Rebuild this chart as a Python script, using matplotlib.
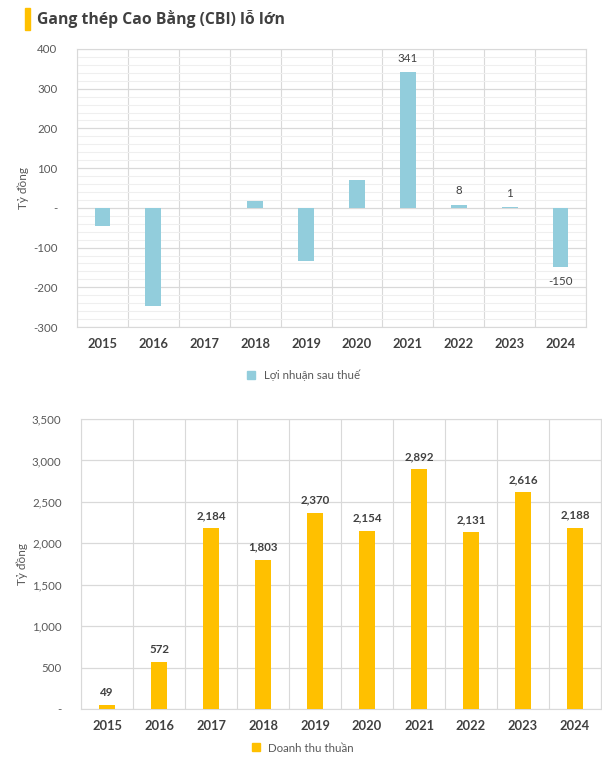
import matplotlib
matplotlib.use("Agg")
import matplotlib.pyplot as plt
from matplotlib.ticker import FuncFormatter, MultipleLocator, FixedLocator
from matplotlib.patches import Rectangle
from matplotlib.lines import Line2D

plt.rcParams['font.family'] = ['Lato', 'DejaVu Sans']

years = ["2015", "2016", "2017", "2018", "2019", "2020", "2021", "2022", "2023", "2024"]
profit = [-46, -248, 0, 18, -135, 71, 341, 8, 1, -150]
profit_labels = [None, None, None, None, None, None, "341", "8", "1", "-150"]
revenue = [49, 572, 2184, 1803, 2370, 2154, 2892, 2131, 2616, 2188]
revenue_labels = ["49", "572", "2,184", "1,803", "2,370", "2,154", "2,892", "2,131", "2,616", "2,188"]

title = "Gang thép Cao Bằng (CBI) lỗ lớn"
ylabel = "Tỷ đồng"
legend_top = "Lợi nhuận sau thuế"
legend_bottom = "Doanh thu thuần"

BLUE = "#92cddc"
YELLOW = "#ffc000"
GRID = "#d9d9d9"
MINOR = "#efefef"
TICK = "#595959"
DARK = "#404040"

W, H = 602, 769
fig = plt.figure(figsize=(W / 100, H / 100), dpi=100)

def fx(px):
    return px / W

def fy(py):
    return 1 - py / H

# title
fig.patches.append(Rectangle((fx(25), fy(30)), fx(5), (22) / H, transform=fig.transFigure,
                             color=YELLOW, zorder=5))
fig.text(fx(37), fy(19), title, fontsize=11.3, fontweight='bold', color=DARK,
         va='center', ha='left', family=['Open Sans', 'DejaVu Sans'])

x = list(range(len(years)))

def style(ax):
    for s in ax.spines.values():
        s.set_color(GRID)
        s.set_linewidth(0.8)
    ax.set_xlim(-0.5, len(years) - 0.5)
    ax.set_xticks(x)
    ax.set_xticklabels(years, fontweight='bold', color=DARK, fontsize=9.3)
    ax.xaxis.set_minor_locator(FixedLocator([i + 0.5 for i in range(-1, len(years))]))
    ax.grid(axis='x', which='minor', color=GRID, linewidth=0.8)
    ax.tick_params(axis='x', which='both', length=0, pad=8)
    ax.tick_params(axis='y', which='both', length=0, labelsize=8.3, labelcolor=TICK, pad=14)
    ax.set_axisbelow(True)

# top chart
ax1 = fig.add_axes([fx(77), fy(327), fx(586) - fx(77), (327 - 49) / H])
ax1.bar(x, profit, width=0.31, color=BLUE, zorder=3)
ax1.set_ylim(-300, 400)
ax1.yaxis.set_major_locator(MultipleLocator(100))
ax1.yaxis.set_minor_locator(MultipleLocator(20))
ax1.grid(axis='y', which='minor', color=MINOR, linewidth=0.8)
ax1.grid(axis='y', which='major', color=GRID, linewidth=0.9)
ax1.yaxis.set_major_formatter(FuncFormatter(lambda v, p: "-" if abs(v) < 1e-9 else f"{v:,.0f}"))
style(ax1)
ax1.set_ylabel(ylabel, fontsize=8.5, color=TICK, labelpad=3)
for i, (v, lab) in enumerate(zip(profit, profit_labels)):
    if lab is None:
        continue
    if v >= 0:
        ax1.annotate(lab, (i, v), xytext=(0, 6), textcoords='offset points',
                     ha='center', va='bottom', fontsize=8.3, color=DARK)
    else:
        ax1.annotate(lab, (i, v), xytext=(0, -6), textcoords='offset points',
                     ha='center', va='top', fontsize=8.3, color=DARK)

# bottom chart
ax2 = fig.add_axes([fx(81), fy(709), fx(601) - fx(81), (709 - 419) / H])
ax2.bar(x, revenue, width=0.29, color=YELLOW, zorder=3)
ax2.set_ylim(0, 3500)
ax2.yaxis.set_major_locator(MultipleLocator(500))
ax2.grid(axis='y', which='major', color=GRID, linewidth=0.9)
ax2.yaxis.set_major_formatter(FuncFormatter(lambda v, p: "-" if abs(v) < 1e-9 else f"{v:,.0f}"))
style(ax2)
ax2.set_ylabel(ylabel, fontsize=8.5, color=TICK, labelpad=3)
for i, (v, lab) in enumerate(zip(revenue, revenue_labels)):
    ax2.annotate(lab, (i, v), xytext=(0, 5), textcoords='offset points',
                 ha='center', va='bottom', fontsize=8.3, fontweight='bold', color=DARK)

# legends
h1 = Line2D([], [], marker='s', linestyle='none', color=BLUE, markersize=6)
fig.legend([h1], [legend_top], loc='center', bbox_to_anchor=(fx(300), fy(375)),
           frameon=False, fontsize=8.3, labelcolor=TICK, handletextpad=0.1)
h2 = Line2D([], [], marker='s', linestyle='none', color=YELLOW, markersize=6)
fig.legend([h2], [legend_bottom], loc='center', bbox_to_anchor=(fx(299), fy(748)),
           frameon=False, fontsize=8.3, labelcolor=TICK, handletextpad=0.1)

fig.savefig("out.png", dpi=100)
